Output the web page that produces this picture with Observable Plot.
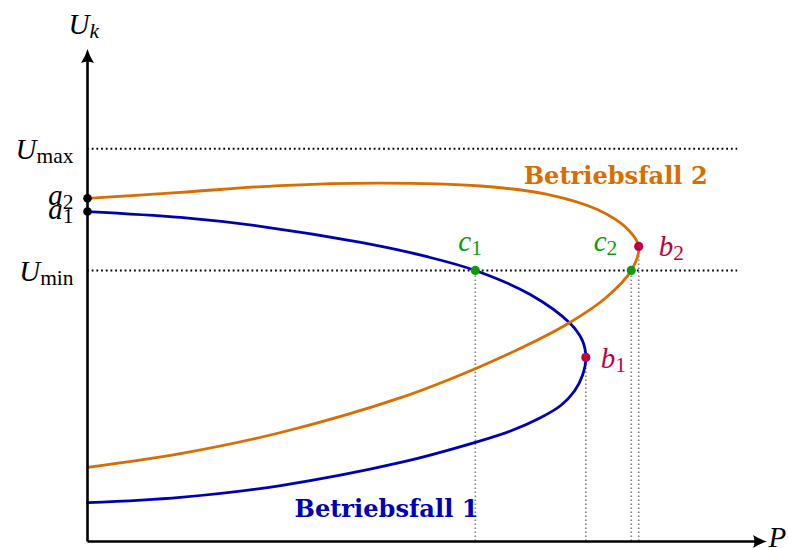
<!DOCTYPE html>
<html>
<head>
<meta charset="utf-8">
<script src="https://cdn.jsdelivr.net/npm/d3@7"></script>
<script src="https://cdn.jsdelivr.net/npm/@observablehq/plot@0.6"></script>
<style>
  html, body { margin: 0; padding: 0; background: #fff; }
  svg { display: block; }
</style>
</head>
<body>
<script>
// ---- data (P and U_k in arbitrary units) ----
const blueP   = [0, 1.37, 2.55, 4.03, 5.01, 5.72, 6.53, 7.12, 7.30, 7.35, 7.30, 7.18, 6.98, 6.68, 6.24, 5.72, 4.62, 2.85, 1.37, 0];
const blueU   = [6.72, 6.60, 6.42, 6.09, 5.80, 5.52, 5.03, 4.44, 4.09, 3.75, 3.38, 3.06, 2.77, 2.52, 2.25, 2.02, 1.61, 1.14, 0.90, 0.79];
const orangeP = [0, 1.37, 2.85, 4.32, 5.80, 6.78, 7.52, 7.96, 8.13, 8.02, 7.65, 7.09, 6.50, 5.72, 4.62, 2.85, 1.37, 0];
const orangeU = [6.99, 7.11, 7.25, 7.30, 7.24, 7.07, 6.76, 6.37, 6.01, 5.52, 4.97, 4.44, 4.01, 3.52, 2.93, 2.22, 1.79, 1.51];

const pointNames = ["a_1", "a_2", "b_1", "b_2", "c_1", "c_2"];
const pointP     = [0, 0, 7.35, 8.13, 5.72, 8.02];
const pointU     = [6.72, 6.99, 3.75, 6.01, 5.52, 5.52];

const levelNames  = ["U_max", "U_min"];
const levelValues = [8.0, 5.52];
const levelEndP   = 9.59;

const caseNames = ["Betriebsfall 1", "Betriebsfall 2"];
const caseP     = [4.41, 7.79];
const caseU     = [0.65, 7.44];

const axisMaxP = 10, axisMaxU = 10;
const axisLabelP = "P", axisLabelU = "U_k";

// ---- styling ----
const BLUE = "#0000b3", ORANGE = "#d96d00", CRIMSON = "#bf0040", GREEN = "#109a10", GRAY = "#858585";
const MATH = "'Liberation Serif', 'DejaVu Serif', serif";

const blue = blueP.map((p, i) => ({P: p, U: blueU[i]}));
const orange = orangeP.map((p, i) => ({P: p, U: orangeU[i]}));
const pts = pointNames.map((n, i) => ({name: n, P: pointP[i], U: pointU[i]}));
const pick = n => pts.filter(d => d.name === n);
const levels = levelNames.map((n, i) => ({name: n, U: levelValues[i]}));
const cases = caseNames.map((n, i) => ({name: n, P: caseP[i], U: caseU[i]}));
const axes = [
  {x1: 0, y1: 0, x2: axisMaxP, y2: 0},
  {x1: 0, y1: 0, x2: 0, y2: axisMaxU}
];

// stealth-like arrow head, tip at the anchor, pointing right
const arrowHead = {
  draw(ctx) {
    ctx.moveTo(1.5, 0);
    ctx.quadraticCurveTo(-5, -1.8, -12.5, -6.5);
    ctx.quadraticCurveTo(-9.5, 0, -12.5, 6.5);
    ctx.quadraticCurveTo(-5, 1.8, 1.5, 0);
    ctx.closePath();
  }
};

const mathText = (data, opts) => Plot.text(data, {
  fontFamily: MATH, fontSize: 29, fontStyle: "italic", ...opts
});
const caseText = (data, color) => Plot.text(data, {
  x: "P", y: "U", text: "name", fill: color,
  fontFamily: "'DejaVu Serif', serif", fontWeight: "bold", fontSize: 24.5,
  className: "case-label"
});

const svg = Plot.plot({
  width: 788,
  height: 548,
  x: {domain: [0, axisMaxP], range: [87, 765], axis: null},
  y: {domain: [0, axisMaxU], range: [541, 50], axis: null},
  style: {background: "#fff", overflow: "visible"},
  marks: [
    // vertical guides from b and c points
    Plot.ruleX(pts.filter(d => d.name[0] !== "a"), {x: "P", y1: 0, y2: "U", stroke: GRAY, strokeWidth: 1.7, strokeDasharray: "1.6,2.4"}),
    // U_max / U_min levels
    Plot.ruleY(levels, {y: "U", x1: 0, x2: levelEndP, stroke: "#000", strokeWidth: 2, strokeDasharray: "1.8,2.9"}),
    // curves
    Plot.line(blue, {x: "P", y: "U", curve: "catmull-rom", stroke: BLUE, strokeWidth: 2.8}),
    Plot.line(orange, {x: "P", y: "U", curve: "catmull-rom", stroke: ORANGE, strokeWidth: 2.8}),
    // axes
    Plot.arrow(axes, {x1: "x1", y1: "y1", x2: "x2", y2: "y2", stroke: "#000", strokeWidth: 2.6, headLength: 0, insetEnd: 8, strokeLinecap: "butt"}),
    Plot.dot(axes.slice(0, 1), {x: "x2", y: "y2", symbol: arrowHead, fill: "#000", stroke: "none"}),
    Plot.dot(axes.slice(1), {x: "x2", y: "y2", symbol: arrowHead, rotate: -90, fill: "#000", stroke: "none"}),
    // points
    Plot.dot(pts.filter(d => d.name[0] === "a"), {x: "P", y: "U", r: 4.3, fill: "#000"}),
    Plot.dot(pts.filter(d => d.name[0] === "b"), {x: "P", y: "U", r: 4.6, fill: CRIMSON}),
    Plot.dot(pts.filter(d => d.name[0] === "c"), {x: "P", y: "U", r: 4.6, fill: GREEN}),
    // point labels
    mathText(pick("a_2"), {x: "P", y: "U", text: "name", textAnchor: "end", dx: -14, dy: -3, fill: "#000"}),
    mathText(pick("a_1"), {x: "P", y: "U", text: "name", textAnchor: "end", dx: -14, dy: -2, fill: "#000"}),
    mathText(pick("b_1"), {x: "P", y: "U", text: "name", textAnchor: "start", dx: 15, dy: 1, fill: CRIMSON}),
    mathText(pick("b_2"), {x: "P", y: "U", text: "name", textAnchor: "start", dx: 20, dy: 0, fill: CRIMSON}),
    mathText(pick("c_1"), {x: "P", y: "U", text: "name", textAnchor: "start", dx: -17, dy: -29, fill: GREEN}),
    mathText(pick("c_2"), {x: "P", y: "U", text: "name", textAnchor: "end", dx: -14, dy: -29, fill: GREEN}),
    // level labels
    mathText(levels, {x: 0, y: "U", text: "name", textAnchor: "end", dx: -14, dy: 1, fill: "#000"}),
    // axis labels
    mathText([axisLabelU], {x: 0, y: axisMaxU, text: d => d, textAnchor: "start", dx: -19, dy: -26, fill: "#000"}),
    mathText([axisLabelP], {x: axisMaxP, y: 0, text: d => d, textAnchor: "start", dx: 3, dy: -4, fill: "#000"}),
    // case labels
    caseText(cases.slice(0, 1), BLUE),
    caseText(cases.slice(1), ORANGE)
  ]
});

// turn "X_sub" into a main letter with a subscript
d3.select(svg).selectAll("text").each(function () {
  const t = this.textContent;
  const m = t.match(/^([^_]+)_(.+)$/);
  if (!m) return;
  const sel = d3.select(this);
  sel.text(null);
  sel.append("tspan").text(m[1]);
  sel.append("tspan")
    .attr("font-size", "0.74em")
    .attr("dy", "0.2em")
    .attr("font-style", /^[a-z]$/.test(m[2]) ? "italic" : "normal")
    .text(m[2]);
});
// match the width of the reference's wide bold face
d3.select(svg).selectAll(".case-label text")
  .attr("textLength", 184)
  .attr("lengthAdjust", "spacingAndGlyphs");

document.body.appendChild(svg);
</script>
</body>
</html>
